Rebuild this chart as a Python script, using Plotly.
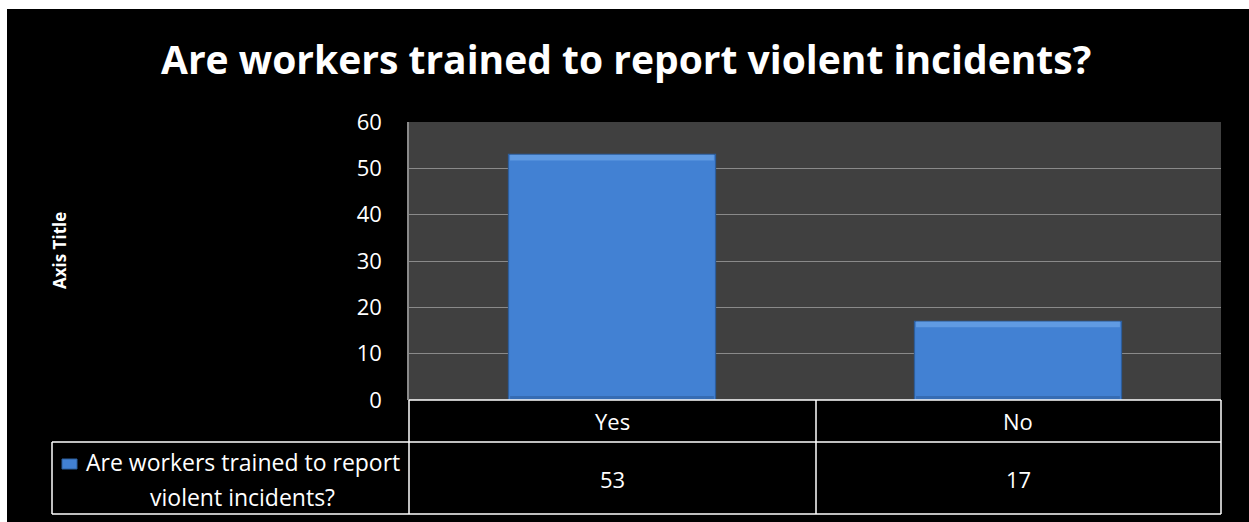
import plotly.graph_objects as go

categories = ["Yes", "No"]
values = [53, 17]
series_name = "Are workers trained to report violent incidents?"
legend_lines = ["Are workers trained to report", "violent incidents?"]
title_text = "Are workers trained to report violent incidents?"
y_ticks = [0, 10, 20, 30, 40, 50, 60]

W, H = 1249, 522
L, R, T, B = 409, 1221, 122, 400  # plot area in pixels
YMAX = 60
BAR_W = 0.51

def px(p):
    return (p - L) / (R - L)

def py(p):
    return (B - p) / (B - T)

per_px = YMAX / (B - T)  # data units per pixel

FONT = "Open Sans"
BLUE = "#4281d3"
fig = go.Figure()
fig.add_trace(go.Bar(
    x=categories, y=values, name=series_name, width=BAR_W,
    marker=dict(color=BLUE, line=dict(color="#2d5e9c", width=1.2)),
    showlegend=False,
))

shapes = []
# white border (top and left) as in the source image
shapes.append(dict(type="rect", xref="paper", yref="paper", x0=px(-5), x1=px(W + 5), y0=py(9), y1=py(-5),
                   fillcolor="white", line=dict(width=0), layer="above"))
shapes.append(dict(type="rect", xref="paper", yref="paper", x0=px(-5), x1=px(7), y0=py(H + 5), y1=py(-5),
                   fillcolor="white", line=dict(width=0), layer="above"))
# bevel highlights on bars
for i, v in enumerate(values):
    x0, x1 = i - BAR_W / 2, i + BAR_W / 2
    shapes.append(dict(type="rect", xref="x", yref="y", x0=x0 + 0.004, x1=x1 - 0.004,
                       y0=v - 6 * per_px, y1=v - 0.3 * per_px,
                       fillcolor="#6ea6ea", line=dict(width=0), layer="above", opacity=0.7))
    shapes.append(dict(type="rect", xref="x", yref="y", x0=x0 + 0.004, x1=x1 - 0.004,
                       y0=0, y1=4 * per_px,
                       fillcolor="#2f5f9e", line=dict(width=0), layer="above", opacity=0.6))

wl = dict(color="white", width=1.5)
def hline(x0, x1, y):
    shapes.append(dict(type="line", xref="paper", yref="paper", x0=px(x0), x1=px(x1), y0=py(y), y1=py(y), line=wl))
def vline(x, y0, y1):
    shapes.append(dict(type="line", xref="paper", yref="paper", x0=px(x), x1=px(x), y0=py(y0), y1=py(y1), line=wl))
hline(L, R, 400)
hline(52, R, 442)
hline(52, R, 514)
vline(L, 400, 514)
vline(816, 400, 514)
vline(R, 400, 514)
vline(52, 442, 514)
# legend key
shapes.append(dict(type="rect", xref="paper", yref="paper", x0=px(62), x1=px(77), y0=py(469), y1=py(459),
                   fillcolor=BLUE, line=dict(color="#2d5e9c", width=1)))

TF = dict(family=FONT, size=22, color="white")
LF = dict(family=FONT, size=23, color="white")
annotations = []
for c, v in zip(categories, values):
    annotations.append(dict(x=c, xref="x", y=py(421), yref="paper", text=c, showarrow=False,
                            xanchor="center", yanchor="middle", font=TF))
    annotations.append(dict(x=c, xref="x", y=py(479), yref="paper", text=str(v), showarrow=False,
                            xanchor="center", yanchor="middle", font=TF))
annotations.append(dict(x=px(243), xref="paper", y=py(462), yref="paper", text=legend_lines[0],
                        showarrow=False, xanchor="center", yanchor="middle", font=LF))
annotations.append(dict(x=px(242), xref="paper", y=py(497), yref="paper", text=legend_lines[1],
                        showarrow=False, xanchor="center", yanchor="middle", font=LF))
annotations.append(dict(x=px(59), xref="paper", y=py(251), yref="paper", text="<b>Axis Title</b>",
                        textangle=-90, showarrow=False, xanchor="center", yanchor="middle",
                        font=dict(family=FONT, size=17, color="white")))
annotations.append(dict(x=px(626), xref="paper", y=py(58), yref="paper", text="<b>" + title_text + "</b>",
                        showarrow=False, xanchor="center", yanchor="middle",
                        font=dict(family=FONT, size=39, color="white")))

fig.update_layout(
    width=W, height=H,
    margin=dict(l=L, r=W - R, t=T, b=H - B, pad=0),
    paper_bgcolor="black", plot_bgcolor="#404040",
    shapes=shapes, annotations=annotations,
    xaxis=dict(showticklabels=False, showgrid=False, zeroline=False, showline=False,
               range=[-0.5, 1.5], fixedrange=True),
    yaxis=dict(range=[0, YMAX], tickvals=y_ticks, showgrid=True, gridcolor="#8a8a8a", gridwidth=1.2,
               zeroline=False, showline=True, linecolor="#8a8a8a", linewidth=1.5,
               tickfont=TF, ticks="outside", ticklen=0,
               ticklabelstandoff=21, fixedrange=True),
)
fig.write_html("out.html", config={"displayModeBar": False},
               post_script="document.body.style.margin='0px';document.body.style.overflow='hidden';")
